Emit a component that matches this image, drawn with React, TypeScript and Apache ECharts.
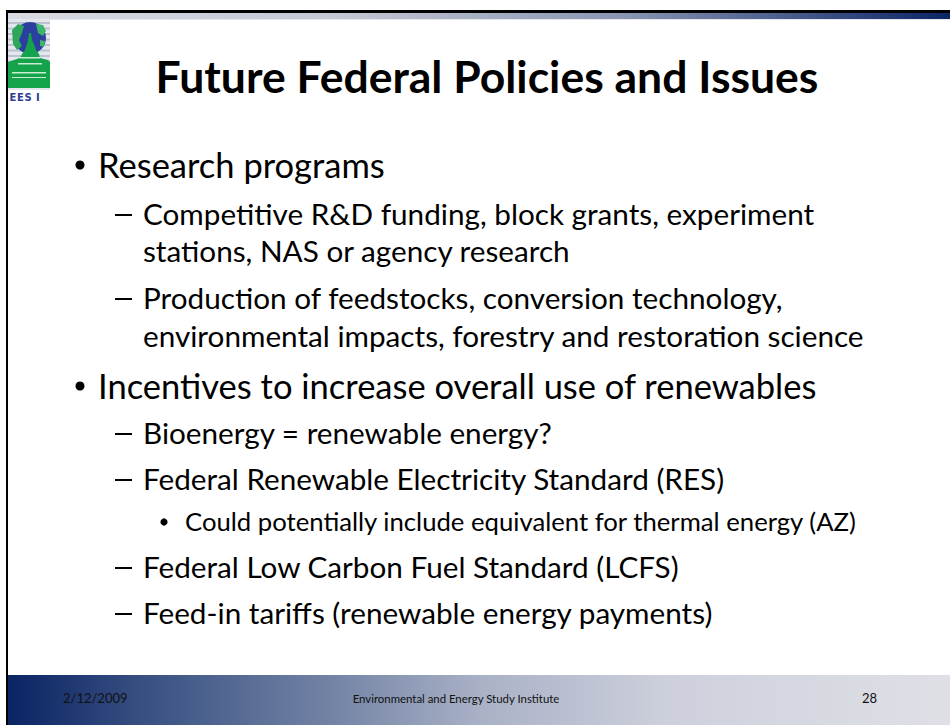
import React, { useEffect, useRef } from "react";
import * as echarts from "echarts";

const TITLE = "Future Federal Policies and Issues";
const LEVEL1 = [
  { text: "Research programs", y: 164 },
  { text: "Incentives to increase overall use of renewables", y: 385 },
];
const LEVEL2 = [
  { text: "Competitive R&D funding, block grants, experiment", y: 213 },
  { text: "Production of feedstocks, conversion technology,", y: 297 },
  { text: "Bioenergy = renewable energy?", y: 432 },
  { text: "Federal Renewable Electricity Standard (RES)", y: 478 },
  { text: "Federal Low Carbon Fuel Standard (LCFS)", y: 566 },
  { text: "Feed-in tariffs (renewable energy payments)", y: 612 },
];
const CONTINUATIONS = [
  { text: "stations, NAS or agency research", y: 250 },
  { text: "environmental impacts, forestry and restoration science", y: 335 },
];
const LEVEL3 = [
  { text: "Could potentially include equivalent for thermal energy (AZ)", y: 521 },
];
const FOOTER_DATE = "2/12/2009";
const FOOTER_ORG = "Environmental and Energy Study Institute";
const FOOTER_PAGE = "28";
const LOGO_LETTERS = ["E", "E", "S", "I"];

const FONT = "Lato, 'Open Sans', sans-serif";

export default function App() {
  const ref = useRef<HTMLDivElement>(null);
  useEffect(() => {
    document.body.style.margin = "0";
    const chart = echarts.init(ref.current!, null, { renderer: "svg" });
    const txt = (x: number, y: number, text: string, size: number, extra: any = {}) => ({
      type: "text",
      x,
      y,
      style: {
        text,
        fontFamily: FONT,
        fontSize: size,
        fill: "#000",
        verticalAlign: "middle",
        align: "left",
        ...extra,
      },
    });
    const els: any[] = [];
    // logo background + stripes
    els.push({ type: "rect", shape: { x: 8, y: 20, width: 42, height: 70 }, style: { fill: "#e4e7ee" } });
    for (let i = 0; i < 12; i++) {
      els.push({ type: "rect", shape: { x: 8, y: 22 + i * 5.5, width: 42, height: 2 }, style: { fill: "#bcc3cf" } });
    }
    // globe
    els.push({ type: "circle", shape: { cx: 30, cy: 38, r: 16 }, style: { fill: "#2b3f9e" } });
    els.push({
      type: "polygon",
      shape: { points: [[12, 30], [18, 24], [24, 26], [22, 33], [19, 40], [22, 46], [17, 50], [13, 44]] },
      style: { fill: "#2ea65c" },
    });
    els.push({
      type: "polygon",
      shape: { points: [[36, 24], [43, 25], [46, 31], [43, 36], [38, 33]] },
      style: { fill: "#3db56a" },
    });
    els.push({
      type: "polygon",
      shape: { points: [[40, 40], [45, 41], [44, 47], [40, 46]] },
      style: { fill: "#3db56a" },
    });
    // capitol
    els.push({
      type: "polygon",
      shape: {
        points: [[29, 33], [31, 33], [32, 40], [34, 44], [36, 50], [39, 54], [40, 58], [48, 60], [50, 62], [50, 88], [8, 88], [8, 62], [14, 60], [20, 58], [22, 54], [25, 50], [27, 44], [28, 40]],
      },
      style: { fill: "#14a24b" },
    });
    els.push({ type: "rect", shape: { x: 20, y: 57, width: 20, height: 1.5 }, style: { fill: "#c9ecd2" } });
    els.push({ type: "rect", shape: { x: 18, y: 63, width: 24, height: 1.5 }, style: { fill: "#c9ecd2" } });
    els.push({ type: "rect", shape: { x: 12, y: 72, width: 34, height: 1.5 }, style: { fill: "#c9ecd2" } });
    els.push({ type: "rect", shape: { x: 12, y: 77, width: 34, height: 1 }, style: { fill: "#c9ecd2" } });
    // logo letters
    const lx = [9.5, 17, 24.5, 36];
    LOGO_LETTERS.forEach((c, i) =>
      els.push(txt(lx[i], 97, c, 10, { fontWeight: "bold", fill: "#2f3d92", fontFamily: "'DejaVu Sans', sans-serif" }))
    );
    // top band
    els.push({
      type: "rect",
      shape: { x: 7, y: 13, width: 943, height: 6 },
      style: {
        fill: new echarts.graphic.LinearGradient(0, 0, 1, 0, [
          { offset: 0, color: "#d9dae2" },
          { offset: 0.35, color: "#c3c7d3" },
          { offset: 0.65, color: "#8a96b2" },
          { offset: 1, color: "#0a2466" },
        ]),
      },
    });
    els.push({ type: "rect", shape: { x: 7, y: 19, width: 943, height: 1 }, style: { fill: "#e6e6ee" } });
    els.push({ type: "rect", shape: { x: 0, y: 0, width: 6, height: 725 }, style: { fill: "#fff" } });
    els.push({ type: "rect", shape: { x: 6, y: 10, width: 944, height: 3 }, style: { fill: "#000" } });
    els.push({ type: "rect", shape: { x: 6, y: 10, width: 2, height: 715 }, style: { fill: "#000" } });
    // footer
    els.push({
      type: "rect",
      shape: { x: 8, y: 675, width: 942, height: 50 },
      style: {
        fill: new echarts.graphic.LinearGradient(0, 0, 1, 0, [
          { offset: 0, color: "#0a2464" },
          { offset: 0.15, color: "#3a5283" },
          { offset: 0.35, color: "#7585a6" },
          { offset: 0.5, color: "#a9b1c6" },
          { offset: 0.7, color: "#cdd0dc" },
          { offset: 1, color: "#dfe0e6" },
        ]),
      },
    });
    // title
    els.push(txt(487, 75, TITLE, 44.5, { fontWeight: "bold", align: "center" }));
    // bullets
    LEVEL1.forEach((l) => {
      els.push({ type: "circle", shape: { cx: 80, cy: l.y + 1, r: 4.5 }, style: { fill: "#000" } });
      els.push(txt(98, l.y, l.text, 34.5));
    });
    LEVEL2.forEach((l) => {
      els.push({ type: "rect", shape: { x: 115, y: l.y + 1, width: 17, height: 2 }, style: { fill: "#000" } });
      els.push(txt(143, l.y, l.text, 29.7));
    });
    CONTINUATIONS.forEach((l) => els.push(txt(143, l.y, l.text, 29.7)));
    LEVEL3.forEach((l) => {
      els.push({ type: "circle", shape: { cx: 164, cy: l.y + 1, r: 3.6 }, style: { fill: "#000" } });
      els.push(txt(185, l.y, l.text, 25.7));
    });
    // footer text
    els.push(txt(63, 698, FOOTER_DATE, 13, { fill: "#111" }));
    els.push(txt(456, 698, FOOTER_ORG, 11.4, { fill: "#111", align: "center" }));
    els.push(txt(862, 698, FOOTER_PAGE, 13, { fill: "#111" }));

    chart.setOption({ animation: false, graphic: { elements: els } });
    return () => chart.dispose();
  }, []);
  return <div ref={ref} style={{ position: "fixed", left: 0, top: 0, width: 950, height: 725, background: "#fff" }} />;
}
